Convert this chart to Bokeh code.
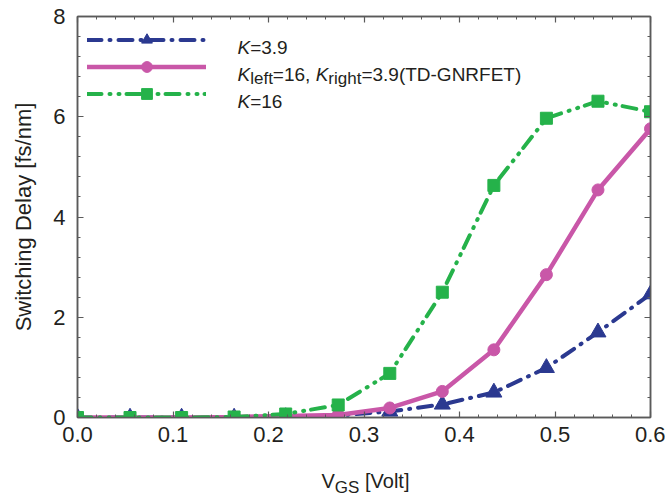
from bokeh.plotting import figure
from bokeh.layouts import column
from bokeh.models import (Label, Legend, LegendItem, LinearAxis, Range1d, FixedTicker,
                          SingleIntervalTicker, NumeralTickFormatter, CustomJSTickFormatter)
from bokeh.core.properties import value
from bokeh.embed import file_html
from bokeh.resources import INLINE

# ---------------- data ----------------
vgs = [0.0, 0.055, 0.109, 0.164, 0.218, 0.273, 0.327, 0.382, 0.436, 0.491, 0.545, 0.6]
delay_k39 = [0.0, 0.0, 0.0, 0.0, 0.01, 0.04, 0.12, 0.26, 0.50, 0.99, 1.70, 2.46]
delay_tdi = [0.0, 0.0, 0.0, 0.01, 0.03, 0.05, 0.19, 0.52, 1.35, 2.85, 4.54, 5.76]
delay_k16 = [0.0, 0.0, 0.0, 0.01, 0.07, 0.25, 0.88, 2.50, 4.63, 5.97, 6.31, 6.10]
x_ticks = [0.0, 0.1, 0.2, 0.3, 0.4, 0.5, 0.6]
x_minor = [0.02, 0.04, 0.06, 0.08, 0.12, 0.14, 0.16, 0.18, 0.22, 0.24, 0.26, 0.28,
           0.32, 0.34, 0.36, 0.38, 0.42, 0.44, 0.46, 0.48, 0.52, 0.54, 0.56, 0.58]

BLUE = "#2B3990"
PINK = "#C957A8"
GREEN = "#25B24A"
TXT = "#231F20"
AX = "#5A5A5A"
FONT = "Liberation Sans"

p = figure(width=665, height=466, output_backend="svg", toolbar_location=None,
           x_range=Range1d(0, 0.6), y_range=Range1d(0, 8),
           min_border_left=77, min_border_right=15, min_border_top=16, min_border_bottom=49)
p.xgrid.visible = False
p.ygrid.visible = False
p.outline_line_color = AX
p.outline_line_width = 1.5
p.background_fill_color = "white"
p.border_fill_color = "white"

def style_axis(ax):
    ax.axis_line_color = AX
    ax.axis_line_width = 1.5
    ax.major_tick_line_color = AX
    ax.minor_tick_line_color = AX
    ax.major_tick_line_width = 1.2
    ax.minor_tick_line_width = 1.0
    ax.major_tick_in = 6
    ax.major_tick_out = 0
    ax.minor_tick_in = 3
    ax.minor_tick_out = 0
    ax.major_label_text_font = FONT
    ax.major_label_text_font_size = "22px"
    ax.major_label_text_color = TXT

p.xaxis.ticker = FixedTicker(ticks=x_ticks, minor_ticks=x_minor)
p.xaxis.formatter = NumeralTickFormatter(format="0.0")
p.yaxis.ticker = SingleIntervalTicker(interval=2, num_minor_ticks=5)
style_axis(p.xaxis[0])
style_axis(p.yaxis[0])
p.xaxis.major_label_standoff = 9
p.yaxis.major_label_standoff = 12
p.yaxis.axis_label = "Switching Delay [fs/nm]"
p.yaxis.axis_label_text_font = FONT
p.yaxis.axis_label_text_font_size = "22px"
p.yaxis.axis_label_text_font_style = "normal"
p.yaxis.axis_label_text_color = TXT
p.yaxis.axis_label_standoff = 14

blank = CustomJSTickFormatter(code="return ''")
top = LinearAxis(ticker=FixedTicker(ticks=x_ticks, minor_ticks=x_minor), formatter=blank)
right = LinearAxis(ticker=SingleIntervalTicker(interval=2, num_minor_ticks=5), formatter=blank)
for ax in (top, right):
    style_axis(ax)
    ax.major_label_standoff = 0
    ax.major_label_text_font_size = "1px"
p.add_layout(top, "above")
p.add_layout(right, "right")

# ---------------- series ----------------
l1 = p.line(vgs, delay_k39, line_color=BLUE, line_width=4, line_dash="14 8 1 8", line_cap="round")
m1 = p.scatter(vgs, delay_k39, marker="triangle", size=16, fill_color=BLUE, line_color=BLUE)
l2 = p.line(vgs, delay_tdi, line_color=PINK, line_width=4.5, line_cap="round")
m2 = p.scatter(vgs, delay_tdi, marker="circle", size=12, fill_color=PINK, line_color=PINK)
l3 = p.line(vgs, delay_k16, line_color=GREEN, line_width=4, line_dash="14 8 1 8 1 7", line_cap="round")
m3 = p.scatter(vgs, delay_k16, marker="square", size=12, fill_color=GREEN, line_color=GREEN)

legend = Legend(items=[LegendItem(label=" ", renderers=[l1, m1]),
                       LegendItem(label=" ", renderers=[l2, m2]),
                       LegendItem(label=" ", renderers=[l3, m3])],
                location="top_left", glyph_width=119, glyph_height=27, label_height=27,
                spacing=0, padding=0, margin=10, border_line_color=None,
                background_fill_alpha=0, label_text_font_size="1px")
p.add_layout(legend, "center")

# ---------------- rich text (legend labels) ----------------
W = {"K": 667, "=": 584, "3": 556, ".": 278, "9": 556, "1": 556, "6": 556, ",": 278, " ": 278,
     "l": 222, "e": 556, "f": 278, "t": 278, "r": 333, "i": 222, "g": 556, "h": 556, "(": 333,
     "T": 611, "D": 722, "-": 333, "G": 778, "N": 722, "R": 722, "F": 611, "E": 667, ")": 333,
     "V": 667, "S": 667, "[": 278, "o": 556, "]": 278}

def width(s, size):
    return sum(W.get(c, 556) for c in s) * size / 1000.0

# frame bottom is at 417 px from the top of the page
def rich(pieces, x0, y0):
    x = x0
    for text, size, dy, style in pieces:
        p.add_layout(Label(x=x, y=y0 + dy, x_units="screen", y_units="screen", text=text,
                           text_font=FONT, text_font_size=f"{size}px", text_font_style=style,
                           text_color=TXT, text_baseline="alphabetic", text_align="left"))
        x += width(text, size)

LX = 160
rows = [370, 343, 316]
rich([("K", 19, 0, "italic"), ("=3.9", 19, 0, "normal")], LX, rows[0])
rich([("K", 19, 0, "italic"), ("left", 17, -4, "normal"), ("=16, ", 19, 0, "normal"),
      ("K", 19, 0, "italic"), ("right", 17, -4, "normal"), ("=3.9(TD-GNRFET)", 19, 0, "normal")],
     LX, rows[1])
rich([("K", 19, 0, "italic"), ("=16", 19, 0, "normal")], LX, rows[2])

# ---------------- x-axis title strip ----------------
# the column aligns this strip's frame with the main frame (page x 77..650),
# so the x range is expressed in page pixels
p2 = figure(frame_width=573, frame_height=30, output_backend="svg", toolbar_location=None,
            title=None, x_range=Range1d(77, 650), y_range=Range1d(30, 0),
            x_axis_location=None, y_axis_location=None,
            min_border=0, min_border_left=0, min_border_right=0,
            min_border_top=0, min_border_bottom=0)
p2.grid.visible = False
p2.outline_line_color = None
p2.background_fill_color = "white"
p2.border_fill_color = "white"

xlab = [("V", 20, 14), ("GS", 17, 21), (" ", 20, 14), ("[Volt]", 20, 14)]
cx = 321
for text, size, base in xlab:
    if text.strip():
        p2.text(x=[cx], y=[base], text=[text], text_font=value(FONT),
                text_font_size=value(f"{size}px"),
                text_baseline="alphabetic", text_align="left", text_color=TXT)
    cx += width(text, size)

layout = column(p, p2, spacing=0)
open("out.html", "w").write(file_html(layout, INLINE))
